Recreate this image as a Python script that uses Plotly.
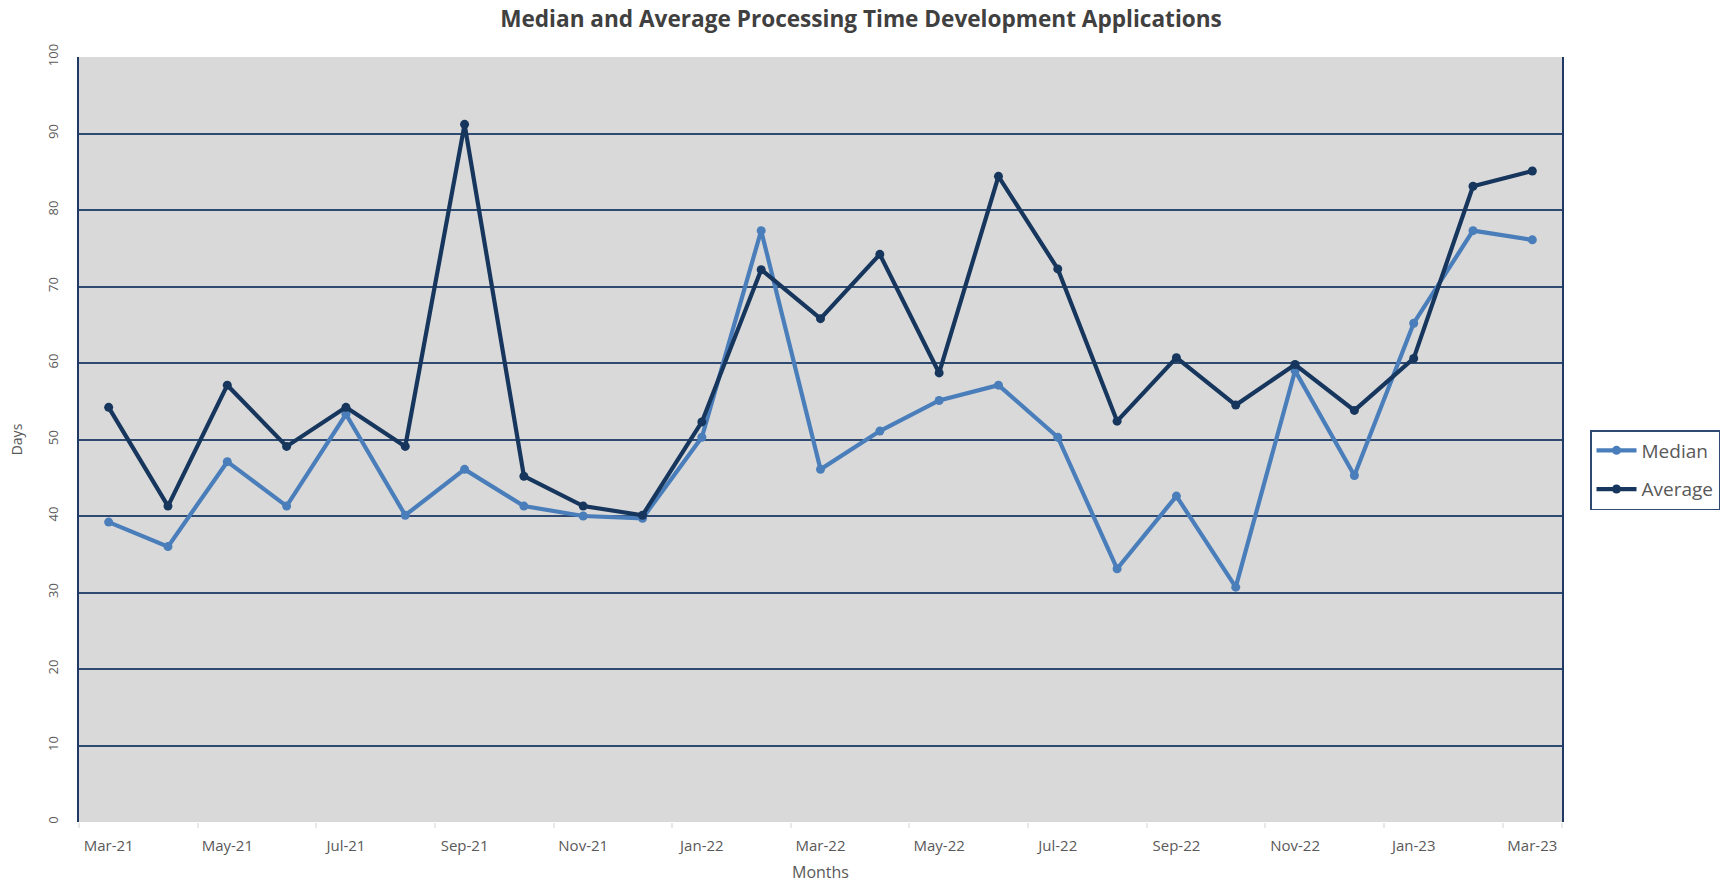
import plotly.graph_objects as go

months = ["Mar-21", "Apr-21", "May-21", "Jun-21", "Jul-21", "Aug-21", "Sep-21", "Oct-21",
          "Nov-21", "Dec-21", "Jan-22", "Feb-22", "Mar-22", "Apr-22", "May-22", "Jun-22",
          "Jul-22", "Aug-22", "Sep-22", "Oct-22", "Nov-22", "Dec-22", "Jan-23", "Feb-23", "Mar-23"]
median = [39.2, 36.0, 47.1, 41.3, 53.3, 40.1, 46.1, 41.3, 40.0, 39.7, 50.3, 77.3, 46.1,
          51.1, 55.1, 57.1, 50.3, 33.1, 42.6, 30.7, 59.0, 45.3, 65.2, 77.3, 76.1]
average = [54.2, 41.3, 57.1, 49.1, 54.2, 49.1, 91.2, 45.2, 41.3, 40.1, 52.3, 72.2, 65.8,
           74.2, 58.7, 84.4, 72.3, 52.4, 60.7, 54.5, 59.8, 53.8, 60.6, 83.1, 85.1]
y_ticks = list(range(0, 101, 10))

x = list(range(len(months)))
tickvals = x[::2]
ticktext = months[::2]

FONT = "'Open Sans', Lato, sans-serif"
GRID = "#2E4A70"

fig = go.Figure()
fig.add_trace(go.Scatter(x=x, y=median, name="Median", mode="lines+markers",
                         legendgroup="m",
                         line=dict(color="#4A7EBB", width=4.2),
                         marker=dict(color="#4A7EBB", size=9)))
fig.add_trace(go.Scatter(x=x, y=average, name="Average", mode="lines+markers",
                         legendgroup="a",
                         line=dict(color="#17365D", width=4.2),
                         marker=dict(color="#17365D", size=9)))

fig.update_layout(
    width=1722, height=885,
    margin=dict(l=79, r=160, t=57, b=63, autoexpand=False),
    paper_bgcolor="white",
    plot_bgcolor="#D9D9D9",
    title=dict(text="<b>Median and Average Processing Time Development Applications</b>",
               x=0.5, xanchor="center", y=1 - 19 / 885, yanchor="middle",
               font=dict(family=FONT, size=22.6, color="#404040")),
    font=dict(family=FONT, color="#595959"),
    showlegend=True,
    legend=dict(x=(1590 - 79) / 1483, xanchor="left", y=(822 - 430) / 765, yanchor="top",
                bgcolor="white", bordercolor="#2E4A70", borderwidth=1.5,
                font=dict(family=FONT, size=19, color="#595959"),
                itemwidth=40, tracegroupgap=11),
    xaxis=dict(range=[-0.5, len(months) - 0.5], tickmode="array",
               tickvals=tickvals, ticktext=ticktext, showgrid=False, zeroline=False,
               showline=False, ticks="", tickfont=dict(size=15, color="#595959"),
               ticklabelstandoff=13,
               title=dict(text="Months", font=dict(size=16, color="#595959"), standoff=12),
               minor=dict(tickmode="array", tickvals=[v - 0.5 for v in tickvals] + [len(months) - 0.5],
                          ticks="outside", ticklen=5, tickcolor="#E8E8E8", tickwidth=1.5)),
    yaxis=dict(range=[0, 100], tickmode="array", tickvals=y_ticks, tickangle=-90,
               showgrid=True, gridcolor=GRID, gridwidth=1.5, zeroline=False,
               showline=True, linecolor="#1F3864", linewidth=2, mirror=True,
               ticks="", tickfont=dict(size=13, color="#595959"),
               ticklabelstandoff=14,
               title=dict(text="Days", font=dict(size=14, color="#595959"), standoff=18)),
)

fig.write_html("out.html", config={"displayModeBar": False},
               post_script="document.body.style.margin='0';document.body.style.overflow='hidden';")
